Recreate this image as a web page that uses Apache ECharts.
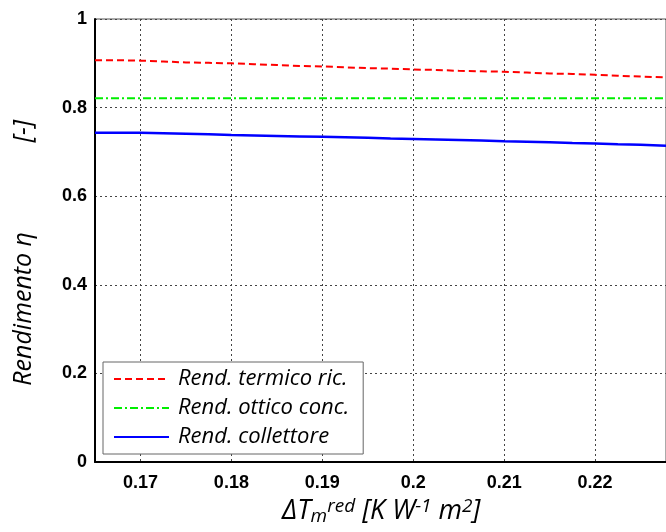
<!DOCTYPE html>
<html><head><meta charset="utf-8">
<script src="https://cdn.jsdelivr.net/npm/echarts@6/dist/echarts.min.js"></script>
<style>html,body{margin:0;padding:0;background:#fff}#c{width:666px;height:532px}</style>
</head><body><div id="c"></div>
<script>
const xVals = [0.165,0.1675,0.17,0.1725,0.175,0.1775,0.18,0.1825,0.185,0.1875,0.19,0.1925,0.195,0.1975,0.2,0.2025,0.205,0.2075,0.21,0.2125,0.215,0.2175,0.22,0.2225,0.225,0.2278];
const redVals = [0.907,0.906,0.904,0.902,0.901,0.900,0.898,0.896,0.894,0.893,0.891,0.889,0.888,0.886,0.885,0.883,0.882,0.881,0.879,0.877,0.876,0.874,0.872,0.870,0.868,0.866];
const greenVals = xVals.map(()=>0.821);
const blueVals = [0.743,0.743,0.742,0.741,0.740,0.738,0.737,0.736,0.735,0.734,0.733,0.732,0.730,0.729,0.728,0.727,0.726,0.724,0.723,0.722,0.720,0.719,0.717,0.716,0.714,0.713];
const seriesNames = ['Rend. termico ric.','Rend. ottico conc.','Rend. collettore'];
const xTicks = [0.17,0.18,0.19,0.2,0.21,0.22];
const yTicks = [0,0.2,0.4,0.6,0.8,1];

const chart = echarts.init(document.getElementById('c'));
const pair = v => xVals.map((x,i)=>[x,v[i]]);
const labelFont = {fontFamily:'Liberation Sans', fontWeight:'bold', fontSize:18, color:'#000'};
const gridLine = {show:true, lineStyle:{color:'#444', type:[2,3], width:1}};
chart.setOption({
  animation:false,
  grid:{left:95, top:19, right:0, bottom:70, show:true, borderColor:'#555', borderWidth:1},
  xAxis:{type:'value', min:0.165, max:0.2278,
    axisLine:{show:true, onZero:false, lineStyle:{color:'#000', width:2}},
    axisTick:{show:false},
    splitLine:gridLine,
    axisLabel:Object.assign({margin:12, hideOverlap:false,
      customValues: xTicks, formatter: v=>String(+v.toFixed(3))}, labelFont)
  },
  yAxis:{type:'value', min:0, max:1, interval:0.2,
    axisLine:{show:true, lineStyle:{color:'#000', width:2}},
    axisTick:{show:false},
    splitLine:gridLine,
    axisLabel:Object.assign({margin:8, formatter: v=>String(+v.toFixed(1))}, labelFont)
  },
  legend:{orient:'vertical', left:103, top:362,
    padding:[6,14,6,10], itemGap:7, itemWidth:55, itemHeight:20,
    backgroundColor:'#fff', borderColor:'#666', borderWidth:1,
    itemStyle:{opacity:0},
    textStyle:{fontFamily:'Open Sans', fontStyle:'italic', fontSize:22, color:'#000', padding:[0,0,0,4]},
    data:seriesNames},
  graphic:[
    {type:'text', left:11, top:232, rotation:Math.PI/2, style:{text:'Rendimento η', font:'italic 25px "Open Sans"', fill:'#000'}},
    {type:'text', left:11, top:120, rotation:Math.PI/2, style:{text:'[-]', font:'italic 25px "Open Sans"', fill:'#000'}},
    {type:'text', left:282, top:497, style:{
      rich:{
        m:{font:'italic 27px "Open Sans"', fill:'#000'},
        sub:{font:'italic 19px "Open Sans"', fill:'#000', verticalAlign:'bottom', padding:[10,0,0,0]},
        sup:{font:'italic 19px "Open Sans"', fill:'#000', verticalAlign:'top'}
      },
      text:'{m|ΔT}{sub|m}{sup|red}{m| [K W}{sup|-1}{m| m}{sup|2}{m|]}'
    }}
  ],
  series:[
    {name:seriesNames[0], type:'line', symbol:'none', step:'end', data:pair(redVals), color:'#ff0000',
     lineStyle:{color:'#ff0000', width:2, type:[7,4]}},
    {name:seriesNames[1], type:'line', symbol:'none', data:pair(greenVals), color:'#00ee00',
     lineStyle:{color:'#00ee00', width:2, type:[8,3,2,3]}},
    {name:seriesNames[2], type:'line', symbol:'none', step:'end', data:pair(blueVals), color:'#0000ff',
     lineStyle:{color:'#0000ff', width:2.5}}
  ]
});
</script></body></html>
